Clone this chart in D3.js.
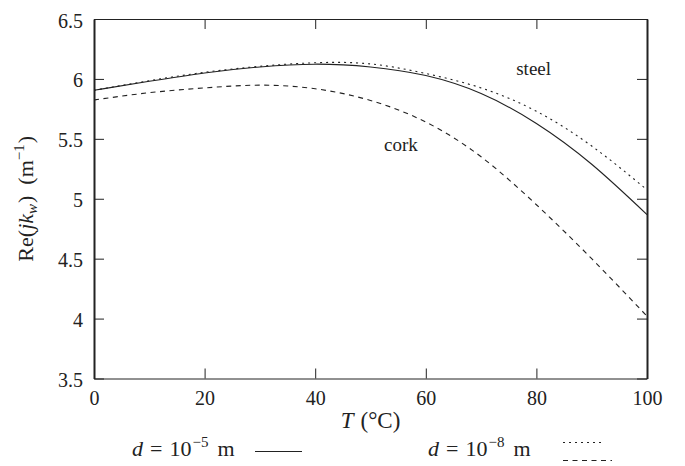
<!DOCTYPE html>
<html>
<head>
<meta charset="utf-8">
<script src="https://cdn.jsdelivr.net/npm/d3@7"></script>
<style>
  html, body { margin: 0; padding: 0; background: #fff; }
  svg text { font-family: "Liberation Serif", "DejaVu Serif", serif; fill: #222; }
</style>
</head>
<body>
<svg id="chart" width="685" height="466"></svg>
<script>
// ---- data ----
const temperatures = [0, 10, 20, 30, 40, 50, 60, 70, 80, 90, 100];
const steelD5 = [5.905, 5.98, 6.05, 6.10, 6.123, 6.10, 6.028, 5.878, 5.628, 5.288, 4.868];
const steelD8 = [5.905, 5.985, 6.055, 6.105, 6.135, 6.125, 6.045, 5.925, 5.73, 5.44, 5.075];
const corkD8  = [5.824, 5.885, 5.925, 5.948, 5.918, 5.82, 5.64, 5.35, 4.95, 4.50, 4.02];
const xTicks = [0, 20, 40, 60, 80, 100];
const yTicks = [3.5, 4, 4.5, 5, 5.5, 6, 6.5];
const curveLabels = [
  { text: "steel", T: 79.5, v: 6.03 },
  { text: "cork",  T: 55.5, v: 5.395 }
];

// ---- layout ----
const svg = d3.select("#chart");
const mLeft = 94, mRight = 647, mTop = 19, mBottom = 378.5;
const x = d3.scaleLinear().domain([0, 100]).range([mLeft, mRight]);
const y = d3.scaleLinear().domain([3.5, 6.5]).range([mBottom, mTop]);
const ink = "#222";

// axes
const gB = svg.append("g").attr("transform", `translate(0,${mBottom})`)
  .call(d3.axisBottom(x).tickValues(xTicks).tickFormat(d3.format("d")).tickSizeInner(-10).tickSizeOuter(0).tickPadding(12));
const gT = svg.append("g").attr("transform", `translate(0,${mTop})`)
  .call(d3.axisTop(x).tickValues(xTicks).tickFormat("").tickSizeInner(-10).tickSizeOuter(0));
const gL = svg.append("g").attr("transform", `translate(${mLeft},0)`)
  .call(d3.axisLeft(y).tickValues(yTicks).tickFormat(d => d3.format("")(d)).tickSizeInner(-10).tickSizeOuter(0).tickPadding(11));
const gR = svg.append("g").attr("transform", `translate(${mRight},0)`)
  .call(d3.axisRight(y).tickValues(yTicks).tickFormat("").tickSizeInner(-10).tickSizeOuter(0));

[gB, gT, gL, gR].forEach(g => {
  g.select(".domain").attr("stroke", ink);
  g.selectAll(".tick line").attr("stroke", ink).attr("stroke-width", 1);
  g.selectAll(".tick text").attr("font-size", 20).attr("fill", ink)
    .style("font-family", '"Liberation Serif", "DejaVu Serif", serif');
});
gL.select(".domain").attr("stroke-width", 2);
gR.select(".domain").attr("stroke-width", 2);
gL.selectAll(".tick text").attr("dy", "0.4em");
gB.selectAll(".tick text").attr("dy", "0.72em");

// curves
const line = d3.line().x((d, i) => x(temperatures[i])).y(d => y(d)).curve(d3.curveNatural);
const series = [
  { values: steelD5, dash: null },
  { values: steelD8, dash: "2,4" },
  { values: corkD8,  dash: "5,4.5" }
];
svg.append("g").selectAll("path").data(series).join("path")
  .attr("d", d => line(d.values))
  .attr("fill", "none")
  .attr("stroke", ink)
  .attr("stroke-width", 1.1)
  .attr("stroke-dasharray", d => d.dash);

// curve labels
svg.append("g").selectAll("text").data(curveLabels).join("text")
  .attr("x", d => x(d.T)).attr("y", d => y(d.v))
  .attr("text-anchor", "middle").attr("font-size", 19)
  .text(d => d.text);

// x axis title
const xt = svg.append("text").attr("x", (mLeft + mRight) / 2).attr("y", 428)
  .attr("text-anchor", "middle").attr("font-size", 23);
xt.append("tspan").attr("font-style", "italic").text("T");
xt.append("tspan").attr("dx", 7).text("(°C)");

// y axis title
const yt = svg.append("text")
  .attr("transform", `translate(33,${(mTop + mBottom) / 2}) rotate(-90)`)
  .attr("text-anchor", "middle").attr("font-size", 22);
yt.append("tspan").text("Re(");
yt.append("tspan").attr("font-style", "italic").text("jk");
yt.append("tspan").attr("font-style", "italic").attr("font-size", 15).attr("dy", 4).text("w");
yt.append("tspan").attr("dy", -4).attr("dx", 1).text(")");
yt.append("tspan").attr("dx", 11).text("(m");
yt.append("tspan").attr("font-size", 15).attr("dy", -9).text("−1");
yt.append("tspan").attr("dy", 9).attr("dx", 1).text(")");

// legend
function legendText(xPos, exp) {
  const t = svg.append("text").attr("x", xPos).attr("y", 456).attr("font-size", 22);
  t.append("tspan").attr("font-style", "italic").text("d");
  t.append("tspan").attr("dx", 7).text("=");
  t.append("tspan").attr("dx", 7).text("10");
  t.append("tspan").attr("font-size", 15).attr("dy", -9).attr("dx", 1).text(exp);
  t.append("tspan").attr("dy", 9).attr("dx", 9).text("m");
}
legendText(132, "−5");
legendText(428, "−8");
svg.append("line").attr("x1", 255).attr("x2", 302).attr("y1", 451.5).attr("y2", 451.5)
  .attr("stroke", ink).attr("stroke-width", 1.1);
svg.append("line").attr("x1", 563).attr("x2", 602).attr("y1", 442.5).attr("y2", 442.5)
  .attr("stroke", ink).attr("stroke-width", 1.1).attr("stroke-dasharray", "2,4");
svg.append("line").attr("x1", 563).attr("x2", 612).attr("y1", 460.5).attr("y2", 460.5)
  .attr("stroke", ink).attr("stroke-width", 1.1).attr("stroke-dasharray", "5,4.5");
</script>
</body>
</html>
